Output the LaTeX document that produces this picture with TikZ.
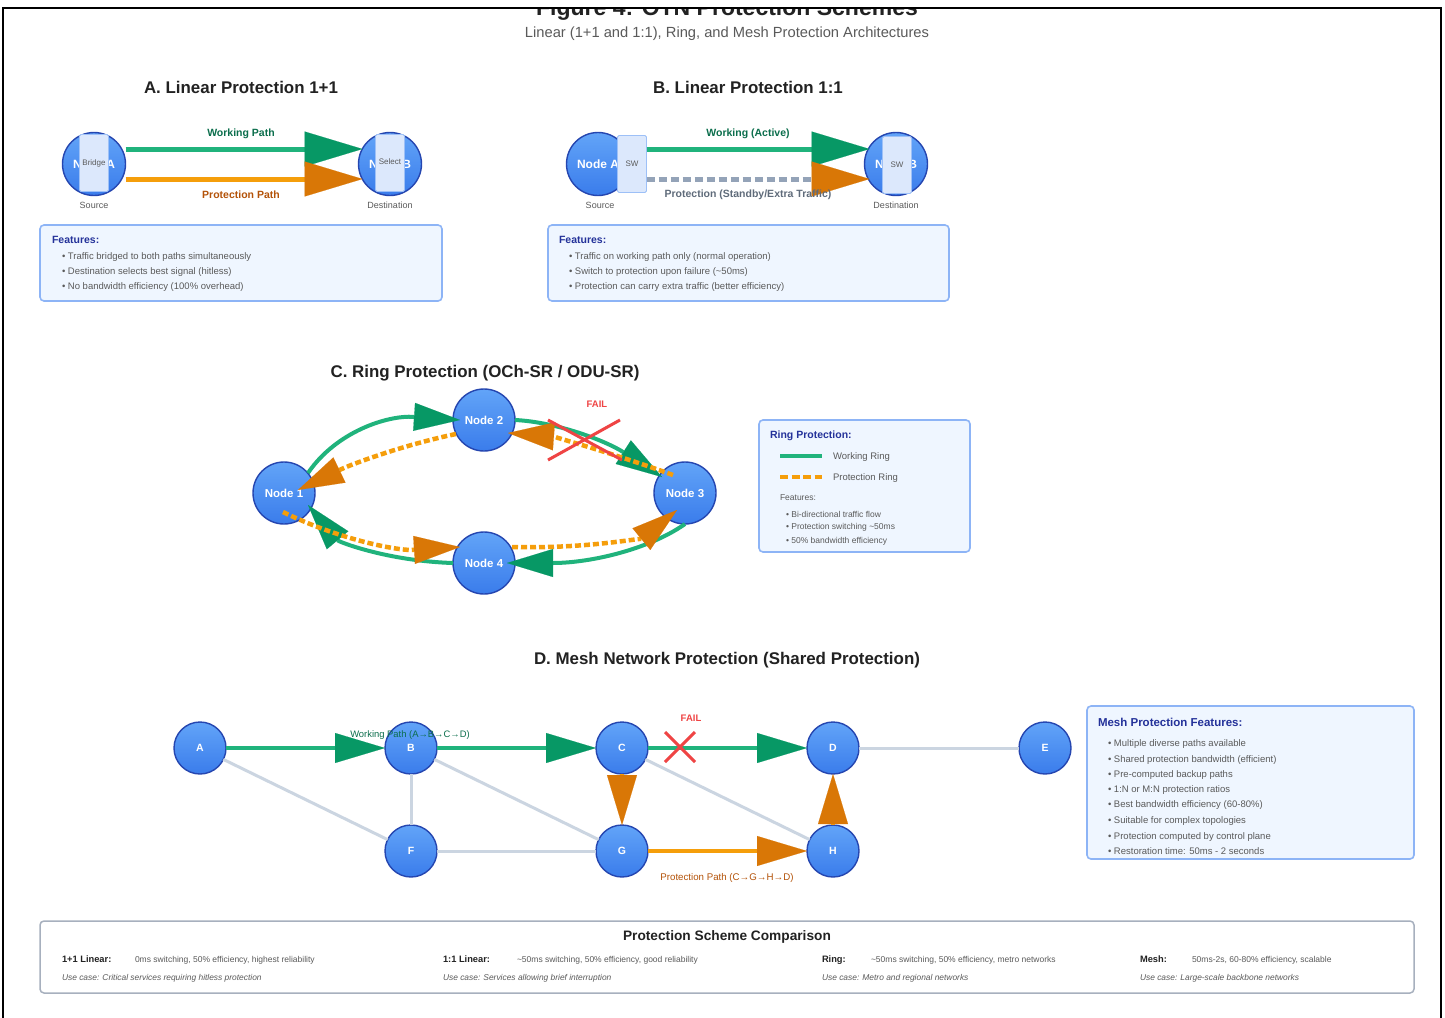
\documentclass[tikz,border=0pt]{standalone}
\usepackage{fontspec}
\setmainfont{Liberation Sans}
\usetikzlibrary{arrows.meta,calc}

\newcommand\fsz[1]{\fontsize{#1pt}{#1pt}\selectfont}

\definecolor{nodetop}{HTML}{62A4F8}
\definecolor{nodebot}{HTML}{3A7CEB}
\definecolor{nodeline}{HTML}{2546B0}
\definecolor{wline}{HTML}{20B37C}
\definecolor{wtip}{HTML}{079865}
\definecolor{wlabel}{HTML}{0B6E4C}
\definecolor{pline}{HTML}{F59E0B}
\definecolor{ptip}{HTML}{D97706}
\definecolor{plabel}{HTML}{B45309}
\definecolor{linkgray}{HTML}{CBD5E1}
\definecolor{dashgray}{HTML}{94A3B8}
\definecolor{boxfill}{HTML}{EFF6FF}
\definecolor{boxline}{HTML}{8DB4F6}
\definecolor{navy}{HTML}{24329A}
\definecolor{bodytext}{HTML}{5A5A5A}
\definecolor{headtext}{HTML}{222222}
\definecolor{slate}{HTML}{5F6B7A}
\definecolor{failred}{HTML}{EF4444}
\definecolor{swfill}{HTML}{DCE8FC}
\definecolor{swline}{HTML}{9DC0F7}
\definecolor{tablebox}{HTML}{A7B0BE}

\tikzset{
  x=1pt, y=-1pt,
  every node/.style={inner sep=0pt, outer sep=0pt},
  net/.style={circle, minimum size=#1, top color=nodetop, bottom color=nodebot,
    draw=nodeline, line width=1.4pt, text=white},
  net/.default=63pt,
  linnode/.style={net=63pt, font=\bfseries\fsz{12}},
  ringnode/.style={net=62pt, font=\bfseries\fsz{11.5}},
  meshnode/.style={net=52pt, font=\bfseries\fsz{10.5}},
  swbox/.style={rectangle, fill=swfill, draw=swline, line width=0.8pt,
    minimum width=29pt, minimum height=57pt, rounded corners=1.5pt,
    font=\fsz{8}, text=bodytext},
  sect/.style={font=\bfseries\fsz{16.9}, text=headtext},
  capt/.style={font=\fsz{9}, text=bodytext},
  infobox/.style={rectangle, fill=boxfill, draw=boxline, line width=1.6pt, rounded corners=4pt},
  boxhead/.style={anchor=west, font=\bfseries\fsz{10.5}, text=navy},
  bullet/.style={anchor=west, font=\fsz{9.5}, text=bodytext},
  smallbullet/.style={anchor=west, font=\fsz{8.5}, text=bodytext},
  % path strokes
  wlin/.style={draw=wline, line width=5pt},
  plin/.style={draw=pline, line width=5pt},
  slin/.style={draw=dashgray, line width=5pt, dash pattern=on 8pt off 4pt},
  wring/.style={draw=wline, line width=4pt},
  pring/.style={draw=pline, line width=4.5pt, dash pattern=on 6pt off 3pt},
  wmesh/.style={draw=wline, line width=4.5pt},
  pmesh/.style={draw=pline, line width=4.5pt},
  glink/.style={draw=linkgray, line width=3pt},
  failx/.style={draw=failred, line width=3pt},
  faillab/.style={font=\bfseries\fsz{9.5}, text=failred},
  % arrow heads
  tipwL/.style={-{Triangle[length=58pt,width=35pt,color=wtip,line width=0.1pt]}},
  tippL/.style={-{Triangle[length=58pt,width=35pt,color=ptip,line width=0.1pt]}},
  tipwR/.style={-{Triangle[length=46pt,width=28pt,color=wtip,line width=0.1pt]}},
  tippR/.style={-{Triangle[length=46pt,width=28pt,color=ptip,line width=0.1pt]}},
  tipwM/.style={-{Triangle[length=50pt,width=30pt,color=wtip,line width=0.1pt]}},
  tippM/.style={-{Triangle[length=50pt,width=30pt,color=ptip,line width=0.1pt]}},
}

\begin{document}
\begin{tikzpicture}
\useasboundingbox (0,0) rectangle (1445,1017);
\fill[white] (0,0) rectangle (1445,1017);

% ---------- heading and frame ----------
\begin{scope}
  \clip (3,9) rectangle (1441,1017);
  \node[font=\bfseries\fsz{23}, text=headtext, anchor=base] (title) at (727,16) {Figure 4: OTN Protection Schemes};
\end{scope}
\draw[line width=2pt] (3,1030) -- (3,8) -- (1441,8) -- (1441,1030);
\node[font=\fsz{14.7}, text=bodytext] (subtitle) at (727,34) {Linear (1+1 and 1:1), Ring, and Mesh Protection Architectures};

% ---------- A. linear 1+1 ----------
\node[sect] (tA) at (241,87) {A. Linear Protection 1+1};
\node[linnode] (srcA) at (94,164) {Node A};
\node[swbox] (bridge) at (94,163) {Bridge};
\node[linnode] (dstA) at (390,164) {Node B};
\node[swbox] (select) at (390,163) {\raisebox{3pt}{Select}};
\node[capt] (srcAcap) at (94,205) {Source};
\node[capt] (dstAcap) at (390,205) {Destination};

\draw[wlin, tipwL, shorten >=-4pt] ([yshift=15pt]srcA.east) -- ([yshift=15pt]dstA.west);
\draw[plin, tippL, shorten >=-4pt] ([yshift=-15pt]srcA.east) -- ([yshift=-15pt]dstA.west);
\node[font=\bfseries\fsz{10.5}, text=wlabel] (wlabA) at (241,134) {Working Path};
\node[font=\bfseries\fsz{10.5}, text=plabel] (plabA) at (241,195) {Protection Path};

\node[infobox, minimum width=402pt, minimum height=76pt] (featA) at (241,263) {};
\node[boxhead] (featAh) at (52,240) {Features:};
\node[bullet] (featA1) at (62,257) {• Traffic bridged to both paths simultaneously};
\node[bullet] (featA2) at (62,272) {• Destination selects best signal (hitless)};
\node[bullet] (featA3) at (62,287) {• No bandwidth efficiency (100\% overhead)};

% ---------- B. linear 1:1 ----------
\node[sect] (tB) at (748,87) {B. Linear Protection 1:1};
\node[linnode] (srcB) at (598,164) {Node A};
\node[swbox] (swB1) at (632,164) {SW};
\node[linnode] (dstB) at (896,164) {Node B};
\node[swbox] (swB2) at (897,165) {SW};
\node[capt] (srcBcap) at (600,205) {Source};
\node[capt] (dstBcap) at (896,205) {Destination};

\draw[wlin, tipwL, shorten >=-5pt] ([yshift=15pt]swB1.east) -- ([yshift=15pt]dstB.west);
\draw[slin, tippL, shorten >=-5pt] ([yshift=-15pt]swB1.east) -- ([yshift=-15pt]dstB.west);
\node[font=\bfseries\fsz{10.5}, text=wlabel] (wlabB) at (748,134) {Working (Active)};
\node[font=\bfseries\fsz{10.5}, text=slate] (plabB) at (748,195) {Protection (Standby/Extra Traffic)};

\node[infobox, minimum width=401pt, minimum height=76pt] (featB) at (748.5,263) {};
\node[boxhead] (featBh) at (559,240) {Features:};
\node[bullet] (featB1) at (569,257) {• Traffic on working path only (normal operation)};
\node[bullet] (featB2) at (569,272) {• Switch to protection upon failure (\textasciitilde 50ms)};
\node[bullet] (featB3) at (569,287) {• Protection can carry extra traffic (better efficiency)};

% ---------- C. ring ----------
\node[sect] (tC) at (485,373) {C. Ring Protection (OCh-SR / ODU-SR)};
\node[ringnode] (n1) at (284,493) {Node 1};
\node[ringnode] (n2) at (484,420) {Node 2};
\node[ringnode] (n3) at (685,493) {Node 3};
\node[ringnode] (n4) at (484,563) {Node 4};

% working ring, clockwise
\draw[wring, tipwR] ($(n1)+(24,-20)$) .. controls (336,432) and (387,415) .. ($(n2)+(-24,0)$);
\draw[wring, tipwR] ($(n2)+(31,0)$) .. controls (557,422) and (606,441) .. ($(n3)+(-23,-16)$);
\draw[wring, tipwR] ($(n3)+(0,31)$) .. controls (648,550) and (589,563) .. ($(n4)+(23,0)$);
\draw[wring, tipwR] ($(n4)+(-31,0)$) .. controls (388,561) and (339,542) .. ($(n1)+(24,12)$);
% protection ring, counter-clockwise
\draw[pring, tippR] ($(n2)+(-28,14)$) .. controls (407,444) and (354,463) .. ($(n1)+(14,-3)$);
\draw[pring, tippR] ($(n3)+(-12,-18)$) .. controls (604,450) and (549,436) .. ($(n2)+(24,13)$);
\draw[pring, tippR] ($(n1)+(-1,19)$) .. controls (338,539) and (397,551) .. ($(n4)+(-24,-16)$);
\draw[pring, tippR] ($(n4)+(28,-16)$) .. controls (589,549) and (644,537) .. ($(n3)+(-8,17)$);

% failure mark on the span 2-3
\draw[failx] (548,420) -- (622,460);
\draw[failx] (548,460) -- (620,420);
\node[faillab] (ringfail) at (597,404) {FAIL};

% legend
\node[infobox, minimum width=211pt, minimum height=132pt] (ringkey) at (864.5,486) {};
\node[boxhead, font=\bfseries\fsz{10.5}] (ringkeyh) at (770,436) {Ring Protection:};
\coordinate (kw1) at (780,456); \coordinate (kw2) at (822,456);
\coordinate (kp1) at (780,477); \coordinate (kp2) at (822,477);
\draw[wring] (kw1) -- (kw2);
\draw[draw=pline, line width=4pt, dash pattern=on 8pt off 3.5pt] (kp1) -- (kp2);
\node[anchor=west, font=\fsz{9.5}, text=bodytext] (kwl) at (833,457) {Working Ring};
\node[anchor=west, font=\fsz{9.5}, text=bodytext] (kpl) at (833,478) {Protection Ring};
\node[smallbullet] (ringfh) at (780,498) {Features:};
\node[smallbullet] (ringf1) at (786,514) {• Bi-directional traffic flow};
\node[smallbullet] (ringf2) at (786,527) {• Protection switching \textasciitilde 50ms};
\node[smallbullet] (ringf3) at (786,541) {• 50\% bandwidth efficiency};

% ---------- D. mesh ----------
\node[sect] (tD) at (727,660) {D. Mesh Network Protection (Shared Protection)};
\node[meshnode] (mA) at (200,748) {A};
\node[meshnode] (mB) at (411,748) {B};
\node[meshnode] (mC) at (622,748) {C};
\node[meshnode] (mD) at (833,748) {D};
\node[meshnode] (mE) at (1045,748) {E};
\node[meshnode] (mF) at (411,851) {F};
\node[meshnode] (mG) at (622,851) {G};
\node[meshnode] (mH) at (833,851) {H};

% spare links
\draw[glink] (mA) -- (mF);
\draw[glink] (mB) -- (mF);
\draw[glink] (mB) -- (mG);
\draw[glink] (mF) -- (mG);
\draw[glink] (mC) -- (mH);
\draw[glink] (mD) -- (mE);

% working path A-B-C-D
\draw[wmesh, tipwM] (mA) -- (mB);
\draw[wmesh, tipwM] (mB) -- (mC);
\draw[wmesh, tipwM] (mC) -- (mD);
% protection path C-G-H-D
\draw[pmesh, tippM] (mC) -- (mG);
\draw[pmesh, tippM] (mG) -- (mH);
\draw[pmesh, tippM] (mH) -- (mD);

\node[font=\fsz{9.4}, text=wlabel] (meshwl) at (410,735) {Working Path (A→B→C→D)};
\node[font=\fsz{9.7}, text=plabel] (meshpl) at (727,878) {Protection Path (C→G→H→D)};

\draw[failx] (665,732) -- (695,762);
\draw[failx] (665,762) -- (695,732);
\node[faillab] (meshfail) at (691,718) {FAIL};

\node[infobox, minimum width=327pt, minimum height=153pt] (meshkey) at (1250.5,782.5) {};
\node[boxhead, font=\bfseries\fsz{11.5}] (meshkeyh) at (1098,722) {Mesh Protection Features:};
\node[bullet] (mf1) at (1108,744) {• Multiple diverse paths available};
\node[bullet] (mf2) at (1108,760) {• Shared protection bandwidth (efficient)};
\node[bullet] (mf3) at (1108,775) {• Pre-computed backup paths};
\node[bullet] (mf4) at (1108,790) {• 1:N or M:N protection ratios};
\node[bullet] (mf5) at (1108,805) {• Best bandwidth efficiency (60-80\%)};
\node[bullet] (mf6) at (1108,821) {• Suitable for complex topologies};
\node[bullet] (mf7) at (1108,837) {• Protection computed by control plane};
\node[bullet] (mf8) at (1108,851) {• Restoration time: 50ms - 2 seconds};

% ---------- comparison table ----------
\node[rectangle, fill=white, draw=tablebox, line width=1.5pt, rounded corners=4pt,
      minimum width=1374pt, minimum height=72pt] (cmp) at (727,957) {};
\node[font=\bfseries\fsz{13.7}, text=headtext] (cmph) at (727,937) {Protection Scheme Comparison};
\tikzset{cmpkey/.style={anchor=base west, font=\bfseries\fsz{9.3}, text=headtext},
         cmpval/.style={anchor=base west, font=\fsz{8.5}, text=bodytext},
         cmpuse/.style={anchor=base west, font=\itshape\fsz{8.4}, text=bodytext}}
\node[cmpkey] (k1) at (62,962) {1+1 Linear:};
\node[cmpval] (v1) at (135,962) {0ms switching, 50\% efficiency, highest reliability};
\node[cmpuse] (u1) at (62,980) {Use case: Critical services requiring hitless protection};
\node[cmpkey] (k2) at (443,962) {1:1 Linear:};
\node[cmpval] (v2) at (517,962) {\textasciitilde 50ms switching, 50\% efficiency, good reliability};
\node[cmpuse] (u2) at (443,980) {Use case: Services allowing brief interruption};
\node[cmpkey] (k3) at (822,962) {Ring:};
\node[cmpval] (v3) at (871,962) {\textasciitilde 50ms switching, 50\% efficiency, metro networks};
\node[cmpuse] (u3) at (822,980) {Use case: Metro and regional networks};
\node[cmpkey] (k4) at (1140,962) {Mesh:};
\node[cmpval] (v4) at (1192,962) {50ms-2s, 60-80\% efficiency, scalable};
\node[cmpuse] (u4) at (1140,980) {Use case: Large-scale backbone networks};
\end{tikzpicture}
\end{document}
